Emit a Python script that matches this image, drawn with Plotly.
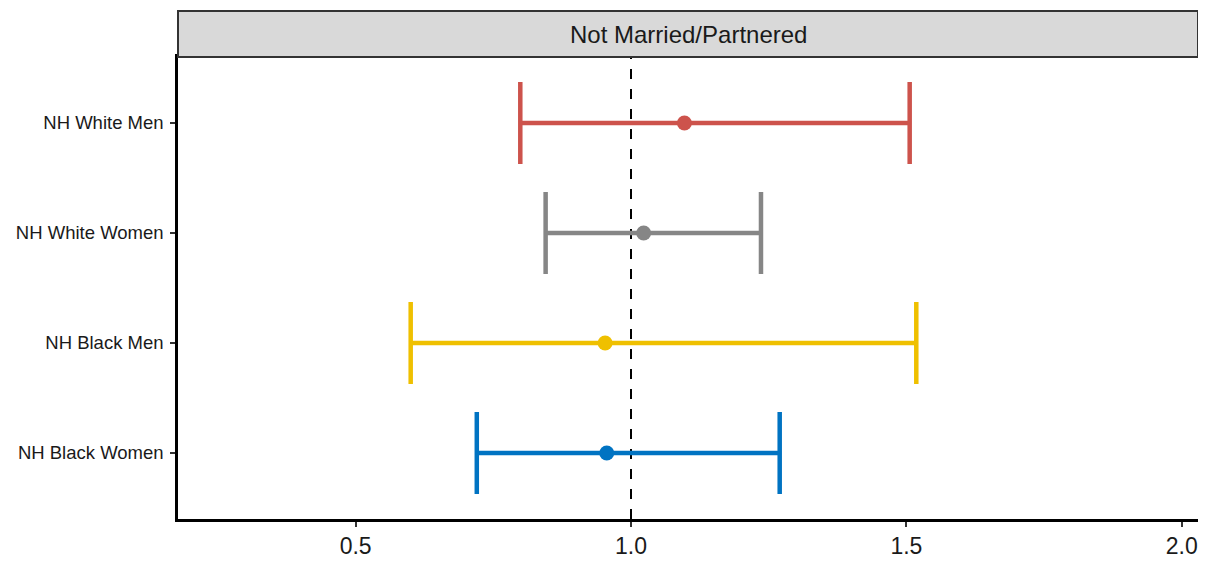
import plotly.graph_objects as go

groups = ["NH White Men", "NH White Women", "NH Black Men", "NH Black Women"]
estimate = [1.097, 1.023, 0.953, 0.956]
ci_low = [0.799, 0.845, 0.600, 0.720]
ci_high = [1.506, 1.236, 1.518, 1.270]
colors = ["#CD534C", "#868686", "#EFC000", "#0073C2"]
panel_title = "Not Married/Partnered"
x_ticks = [0.5, 1.0, 1.5, 2.0]
x_ticklabels = ["0.5", "1.0", "1.5", "2.0"]
ref_value = 1.0

FONT = "Liberation Sans, Arial, sans-serif"

fig = go.Figure()
for g, est, lo, hi, c in zip(groups, estimate, ci_low, ci_high, colors):
    fig.add_trace(go.Scatter(
        x=[est], y=[g], mode="markers",
        marker=dict(color=c, size=15, line=dict(width=0)),
        error_x=dict(type="data", symmetric=False,
                     array=[hi - est], arrayminus=[est - lo],
                     color=c, thickness=4.5, width=41),
        showlegend=False, hoverinfo="skip",
    ))

# reference line
fig.add_shape(type="line", xref="x", yref="paper", x0=ref_value, x1=ref_value,
              y0=0, y1=1, line=dict(color="black", width=2, dash="10px,10px"),
              layer="below")

W, H = 1198, 558
ML, MR, MT, MB = 170, 5, 49, 47
plot_h = H - MT - MB
strip_h = 46
fig.add_shape(type="rect", xref="paper", yref="paper", x0=0, x1=1,
              y0=1, y1=1 + strip_h / plot_h,
              fillcolor="#D9D9D9", line=dict(color="#333333", width=2),
              layer="above")
fig.add_annotation(xref="paper", yref="paper", x=0.5, y=1 + strip_h / plot_h / 2,
                   text=panel_title, showarrow=False,
                   font=dict(family=FONT, size=24, color="#1A1A1A"),
                   xanchor="center", yanchor="middle")

fig.update_layout(
    width=W, height=H,
    margin=dict(l=ML, r=MR, t=MT, b=MB),
    plot_bgcolor="white", paper_bgcolor="white",
    font=dict(family=FONT),
)
fig.update_xaxes(
    range=[0.1775, 2.0295], tickvals=x_ticks, ticktext=x_ticklabels,
    showgrid=False, zeroline=False,
    showline=True, linecolor="black", linewidth=2.5, mirror=True,
    ticks="outside", ticklen=5, tickwidth=2, tickcolor="#333333",
    tickfont=dict(family=FONT, size=23, color="#1A1A1A"),
)
fig.update_yaxes(
    type="category", categoryorder="array", categoryarray=groups,
    range=[3.6, -0.6],
    showgrid=False, zeroline=False,
    showline=True, linecolor="black", linewidth=2.5, mirror=True,
    ticks="outside", ticklen=5, tickwidth=2, tickcolor="#333333",
    ticklabelstandoff=3,
    tickfont=dict(family=FONT, size=18.5, color="#1A1A1A"),
)

fig.write_html("out.html")
